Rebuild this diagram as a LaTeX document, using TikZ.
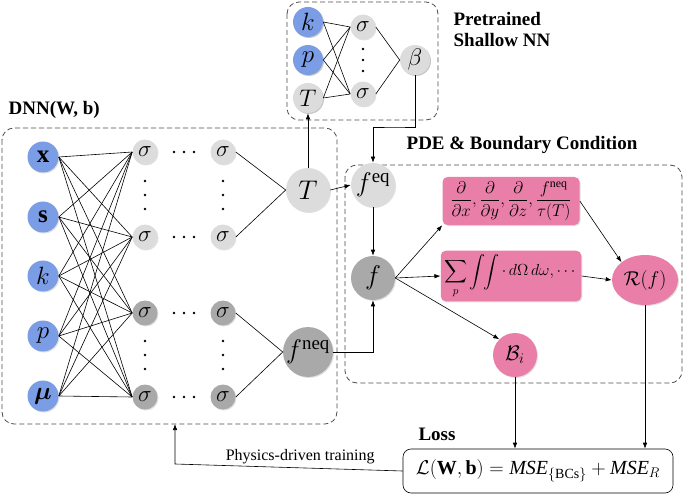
\RequirePackage{fix-cm}
\documentclass[tikz,border=0pt]{standalone}
\usepackage{amsmath,amssymb,bm}
\usepackage{fontspec}
\setmainfont{Liberation Serif}
\usetikzlibrary{arrows.meta,shadows,shapes.geometric}
\definecolor{inblue}{HTML}{7B9DE6}
\definecolor{lgray}{HTML}{DCDCDC}
\definecolor{dgray}{HTML}{A9A9A9}
\definecolor{pinkbox}{HTML}{E97FA8}
\tikzset{
  neuron/.style={circle,draw=none,minimum size=#1,inner sep=0pt,drop shadow={opacity=0.25,shadow xshift=1pt,shadow yshift=-1pt}},
  neuron/.default=24pt,
  inp/.style={neuron=31pt,fill=inblue,font=\fontsize{25}{26}\selectfont},
  hl/.style={neuron=25pt,fill=lgray,font=\fontsize{23}{24}\selectfont},
  hd/.style={neuron=25pt,fill=dgray,font=\fontsize{23}{24}\selectfont},
  pbox/.style={rounded corners=5pt,fill=pinkbox,minimum width=137pt,minimum height=48pt,drop shadow={opacity=0.25,shadow xshift=1pt,shadow yshift=-1pt}},
  grp/.style={draw=black!70,dash pattern=on 5pt off 3pt,thick,rounded corners=12pt},
  ttl/.style={font=\bfseries\fontsize{19}{21}\selectfont},
  arr/.style={-{Latex[length=6pt,width=4.5pt]}},
  dot/.style={circle,fill=black,inner sep=0pt,minimum size=2.8pt},
  big/.style={font=\fontsize{27}{28}\selectfont}
}
\begin{document}
\begin{tikzpicture}[x=1pt,y=-1pt,line width=0.6pt]
\useasboundingbox (0,0) rectangle (685,497);
% groups
\draw[grp] (2,128) rectangle (337,424);
\draw[grp] (287,2) rectangle (438,120);
\draw[grp] (345,165) rectangle (682,383);
\node[ttl,anchor=west] at (5,110) {DNN(W, b)};
\node[ttl,align=left,anchor=west] at (450,30) {Pretrained\\Shallow NN};
\node[ttl] at (522,145) {PDE \& Boundary Condition};
\node[ttl] at (437,434) {Loss};
% input layer
\node[inp] (x) at (43,157) {$\mathbf{x}$};
\node[inp] (s) at (43,217) {$\mathbf{s}$};
\node[inp] (k) at (43,276) {$k$};
\node[inp] (p) at (43,336) {$p$};
\node[inp] (mu) at (43,396) {$\bm{\mu}$};
% hidden layers
\foreach \n/\yy/\st in {a/152/hl,b/237/hl,c/313/hd,d/397/hd}{
  \node[\st] (\n1) at (145,\yy) {$\sigma$};
  \node[\st] (\n2) at (223,\yy) {$\sigma$};
  \foreach \d in {-10,0,10}
    \node[dot] at (184+\d,\yy) {};
}
\foreach \xx in {145,223}
  \foreach \yy in {181,195,209,341,355,369}
    \node[dot] at (\xx,\yy) {};
\foreach \i in {x,s,k,p,mu}
  \foreach \j in {a1,b1,c1,d1}
    \draw (\i.east) -- (\j.west);
\node[neuron=44pt,fill=lgray,big] (T) at (308,190) {$T$};
\node[neuron=44pt,fill=dgray,big] (fneq) at (308,352) {$f^{\mathrm{neq}}$};
\draw (a2.east) -- (T.west) -- (b2.east);
\draw (c2.east) -- (fneq.west) -- (d2.east);
% shallow net
\node[inp,neuron=30pt] (sk) at (308,22) {$k$};
\node[inp,neuron=30pt] (sp) at (308,60) {$p$};
\node[hl,neuron=30pt,font=\fontsize{24}{26}\selectfont] (sT) at (308,98) {$T$};
\node[hl] (s1) at (363,27) {$\sigma$};
\node[hl] (s2) at (363,94) {$\sigma$};
\foreach \yy in {49,60,71}
  \node[dot] at (363,\yy) {};
\node[hl,neuron=30pt,font=\fontsize{24}{26}\selectfont] (beta) at (415,60) {$\beta$};
\foreach \i in {sk,sp,sT}
  \foreach \j in {s1,s2}
    \draw (\i.east) -- (\j.west);
\draw (s1.east) -- (beta.west) -- (s2.east);
% PDE part
\node[neuron=44pt,fill=lgray,big] (feq) at (373,185) {$f^{\mathrm{eq}}$};
\node[neuron=44pt,fill=dgray,big] (f) at (373,278) {$f$};
\node[pbox,font=\fontsize{17}{18}\selectfont] (b1) at (511,201) {$\dfrac{\partial}{\partial x},\dfrac{\partial}{\partial y},\dfrac{\partial}{\partial z},\dfrac{f^{\mathrm{neq}}}{\tau(T)}$};
\node[pbox,font=\fontsize{16}{18}\selectfont] (b2) at (511,276) {$\displaystyle\sum_{p}\int\!\!\int\cdot\,d\Omega\,d\omega,\cdots$};
\node[ellipse,fill=pinkbox,minimum width=66pt,minimum height=50pt,inner xsep=0pt,inner ysep=-12pt,font=\fontsize{20}{20}\selectfont,drop shadow={opacity=0.25,shadow xshift=1pt,shadow yshift=-1pt}] (R) at (645,280) {$\mathcal{R}(f)$};
\node[neuron=44pt,fill=pinkbox,font=\fontsize{21}{22}\selectfont] (B) at (515,355) {$\mathcal{B}_i$};
% loss
\node[draw,rounded corners=8pt,minimum width=270pt,minimum height=44pt,font=\fontsize{20}{22}\selectfont] (L) at (538,471) {$\mathcal{L}(\mathbf{W},\mathbf{b}) = \mathit{MSE}_{\{\mathrm{BCs}\}} + \mathit{MSE}_R$};
% connections
\draw[arr] (T.east) -- (feq.west);
\draw[arr] (T.north) -- (sT.south);
\draw[arr] (beta.south) |- (395,127) -| (feq.north);
\draw[arr] (fneq.east) -| (f.south);
\draw[arr] (feq.south) -- (f.north);
\draw[arr] (f.east) -- (b1.south west);
\draw[arr] (f.east) -- (b2.west);
\draw[arr] (f.east) -- (B.north west);
\draw[arr] (b1.east) -- (R.north west);
\draw[arr] (b2.east) -- (R.west);
\draw[arr] (B.south) -- (B.south |- L.north);
\draw[arr] (R.south) -- (R.south |- L.north);
\draw[arr] (L.west) -- node[above,font=\fontsize{16}{18}\selectfont,pos=0.45] {Physics-driven training} (175,464) -- (175,424);
\end{tikzpicture}
\end{document}
